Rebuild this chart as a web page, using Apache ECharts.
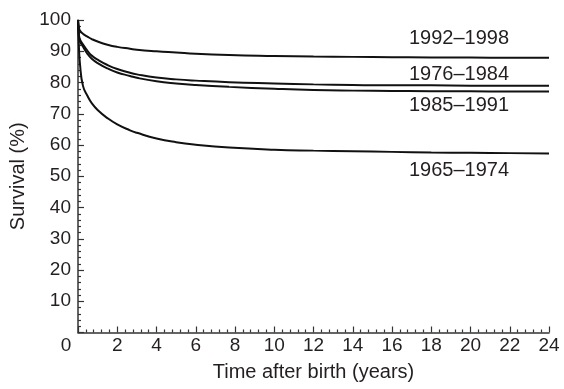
<!DOCTYPE html>
<html>
<head>
<meta charset="utf-8">
<script src="https://cdn.jsdelivr.net/npm/echarts@6/dist/echarts.min.js"></script>
<style>html,body{margin:0;padding:0;background:#fff}#c{width:564px;height:389px}</style>
</head>
<body>
<div id="c"></div>
<script>
var years = [0, 0.05, 0.1, 0.25, 0.5, 0.7, 1, 1.5, 2, 2.65, 3, 4, 5, 6, 7.7, 10, 12, 14, 16, 18, 20, 22, 24];
var s1992 = [100, 97.5, 96.6, 95.6, 94.6, 93.9, 93.1, 92.1, 91.4, 90.8, 90.5, 90.0, 89.6, 89.2, 88.8, 88.5, 88.3, 88.2, 88.1, 88.0, 88.0, 87.9, 87.9];
var s1976 = [100, 95.2, 93.8, 92.2, 90.0, 88.6, 87.3, 85.6, 84.3, 83.1, 82.6, 81.6, 81.0, 80.6, 80.1, 79.7, 79.4, 79.2, 79.1, 79.1, 79.0, 79.0, 79.0];
var s1985 = [100, 94.6, 93.2, 91.5, 89.0, 87.6, 86.2, 84.5, 83.2, 82.1, 81.5, 80.4, 79.7, 79.2, 78.6, 78.0, 77.6, 77.4, 77.3, 77.2, 77.2, 77.1, 77.1];
var s1965 = [100, 91.0, 86.0, 79.0, 75.5, 73.4, 71.2, 68.6, 66.6, 64.7, 63.9, 62.1, 60.9, 60.1, 59.2, 58.5, 58.2, 58.0, 57.8, 57.6, 57.5, 57.4, 57.3];
var seriesNames = ['1992\u20131998', '1976\u20131984', '1985\u20131991', '1965\u20131974'];
var xTicks = [0, 2, 4, 6, 8, 10, 12, 14, 16, 18, 20, 22, 24];
var yTicks = [10, 20, 30, 40, 50, 60, 70, 80, 90, 100];

var FONT = '"Liberation Sans", Arial, Helvetica, sans-serif';
var TXT = '#231f20';
var chart = echarts.init(document.getElementById('c'), null, {renderer: 'canvas'});

function pairs(v) { return years.map(function (x, i) { return [x, v[i]]; }); }
var allSeries = [s1992, s1976, s1985, s1965];

var option = {
  animation: false,
  backgroundColor: '#fff',
  grid: {left: 78, right: 15, top: 20, bottom: 56.5, containLabel: false},
  xAxis: {
    type: 'value', min: 0, max: 24, interval: 2,
    name: 'Time after birth (years)', nameLocation: 'middle', nameGap: 30,
    nameTextStyle: {fontFamily: FONT, fontSize: 20, color: TXT},
    axisLine: {lineStyle: {color: '#333', width: 1.5}},
    axisTick: {inside: true, length: 6, lineStyle: {color: '#333', width: 1.2}},
    minorTick: {show: true, splitNumber: 5, length: 3, lineStyle: {color: '#333', width: 1.2}},
    splitLine: {show: false},
    axisLabel: {
      margin: 4, fontFamily: FONT, fontSize: 19, color: TXT,
      formatter: function (v) { return xTicks.indexOf(v) < 0 ? '' : (v === 0 ? '{z|0}' : String(v)); },
      rich: {z: {fontFamily: FONT, fontSize: 19, color: TXT, padding: [0, 24, 0, 0]}}
    }
  },
  yAxis: {
    type: 'value', min: 0, max: 100, interval: 10,
    name: 'Survival (%)', nameLocation: 'middle', nameGap: 46,
    nameTextStyle: {fontFamily: FONT, fontSize: 20, color: TXT},
    axisLine: {show: true, lineStyle: {color: '#333', width: 1.5}},
    axisTick: {show: true, inside: true, length: 6, lineStyle: {color: '#333', width: 1.2}},
    minorTick: {show: true, splitNumber: 5, length: 3, lineStyle: {color: '#333', width: 1.2}},
    splitLine: {show: false},
    axisLabel: {
      margin: 7, fontFamily: FONT, fontSize: 19, color: TXT,
      formatter: function (v) { return yTicks.indexOf(v) < 0 ? '' : String(v); }
    }
  },
  series: allSeries.map(function (s, i) {
    return {
      name: seriesNames[i], type: 'line', data: pairs(s),
      showSymbol: false, symbol: 'none', smooth: 0.5,
      lineStyle: {color: '#111', width: 2}, clip: true
    };
  }),
  graphic: [
    {type: 'text', left: 409, top: 28, style: {text: seriesNames[0], font: '20px ' + FONT, fill: TXT}},
    {type: 'text', left: 409, top: 64, style: {text: seriesNames[1], font: '20px ' + FONT, fill: TXT}},
    {type: 'text', left: 409, top: 95, style: {text: seriesNames[2], font: '20px ' + FONT, fill: TXT}},
    {type: 'text', left: 409, top: 160, style: {text: seriesNames[3], font: '20px ' + FONT, fill: TXT}}
  ]
};
chart.setOption(option);
</script>
</body>
</html>
